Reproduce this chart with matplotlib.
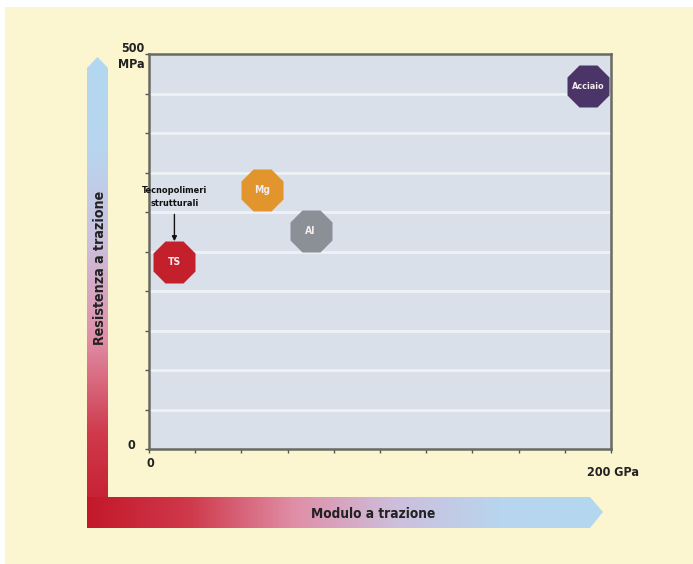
import matplotlib
matplotlib.use("Agg")
import matplotlib.pyplot as plt
import numpy as np
from matplotlib.patches import Polygon, Rectangle
from matplotlib.colors import LinearSegmentedColormap

plt.rcParams['font.family'] = ['DejaVu Sans']
plt.rcParams['font.stretch'] = 'condensed'

# materiali: modulo a trazione (GPa) e resistenza a trazione (MPa)
materials = ['TS', 'Mg', 'Al', 'Acciaio']
modulus = [11, 49, 70, 190]
strength = [237, 328, 276, 459]
colors = ['#c3202b', '#e1952c', '#8b8f96', '#4b3568']
label_sizes = [7.5, 7.5, 7.5, 6.5]

x_max = 200
y_max = 500
x_ticks = np.arange(0, 201, 20)
y_ticks = np.arange(0, 501, 50)

W, H = 693, 564
fig = plt.figure(figsize=(W / 100, H / 100), dpi=100)
fig.patch.set_facecolor('white')

# sfondo in coordinate pixel
bg = fig.add_axes([0, 0, 1, 1])
bg.add_patch(Rectangle((5, 7), W - 5, H - 7, facecolor='#fbf6d0',
                       edgecolor='none', zorder=0))

grad = LinearSegmentedColormap.from_list(
    'grad', ['#c3182a', '#cf3a4c', '#e08ea6', '#cdbfdd', '#b8d5ee', '#b3d8f0'])

# freccia verticale (resistenza)
v_arrow = Polygon([(87, 528), (87, 68), (97.5, 57), (108, 68), (108, 528)],
                  closed=True, facecolor='none', edgecolor='none')
bg.add_patch(v_arrow)
vimg = np.linspace(1, 0, 256)[:, None]
im_v = bg.imshow(vimg, cmap=grad, extent=(87, 108, 528, 57), aspect='auto',
                 interpolation='bilinear', zorder=2)
im_v.set_clip_path(v_arrow)

# freccia orizzontale (modulo)
h_arrow = Polygon([(87, 497), (590, 497), (603, 512), (590, 528), (87, 528)],
                  closed=True, facecolor='none', edgecolor='none')
bg.add_patch(h_arrow)
himg = np.linspace(0, 1, 256)[None, :]
im_h = bg.imshow(himg, cmap=grad, extent=(87, 603, 528, 497), aspect='auto',
                 interpolation='bilinear', zorder=2)
im_h.set_clip_path(h_arrow)

bg.set_xlim(0, W)
bg.set_ylim(H, 0)
bg.axis('off')

bg.text(100, 268, 'Resistenza a trazione', rotation=90, ha='center', va='center',
        fontsize=10.2, fontweight='bold', color='#222222', zorder=3)
bg.text(373, 514, 'Modulo a trazione', ha='center', va='center',
        fontsize=9.8, fontweight='bold', color='#222222', zorder=3)

# grafico
ax = fig.add_axes([149 / W, (H - 449) / H, 462 / W, 395 / H])
ax.set_facecolor('#d9e0ea')
ax.set_xlim(0, x_max)
ax.set_ylim(0, y_max)
for y in y_ticks[1:-1]:
    ax.axhline(y, color='#eef2f7', lw=2, zorder=1)
for s in ax.spines.values():
    s.set_color('#6a6a62')
    s.set_linewidth(1.8)
ax.set_xticks(x_ticks)
ax.set_yticks(y_ticks)
ax.set_xticklabels([])
ax.set_yticklabels([])
ax.tick_params(direction='out', length=3, width=1, color='#555555')

ax.text(0.5, -10, '0', ha='center', va='top',
        fontsize=9, fontweight='bold', color='#222222', clip_on=False)
ax.text(-6, 4, '0', ha='right', va='center',
        fontsize=9, fontweight='bold', color='#222222', clip_on=False)
ax.text(-2, y_max - 3, '500\nMPa', ha='right', va='center', linespacing=1.3,
        fontsize=9, fontweight='bold', color='#222222', clip_on=False)
ax.text(x_max + 1, -22, '200 GPa', ha='center', va='top',
        fontsize=9, fontweight='bold', color='#222222', clip_on=False)

for name, xv, yv, c, fs in zip(materials, modulus, strength, colors, label_sizes):
    ax.plot(xv, yv, marker='8', markersize=33.5, color=c, markeredgecolor='none',
            zorder=3, clip_on=False)
    ax.text(xv, yv, name, ha='center', va='center', fontsize=fs,
            fontweight='bold', color='#f4ecec', zorder=4)

# etichetta dei tecnopolimeri con freccia verso TS
ax.text(modulus[0], strength[0] + 82, 'Tecnopolimeri\nstrutturali', ha='center',
        va='center', fontsize=6.6, fontweight='bold', color='#111111',
        linespacing=1.5, zorder=4)
ax.annotate('', xy=(modulus[0], strength[0] + 26),
            xytext=(modulus[0], strength[0] + 60),
            arrowprops=dict(arrowstyle='-|>', color='#111111', lw=1,
                            mutation_scale=7, shrinkA=0, shrinkB=0),
            zorder=4)

fig.savefig('out.png', dpi=100)
